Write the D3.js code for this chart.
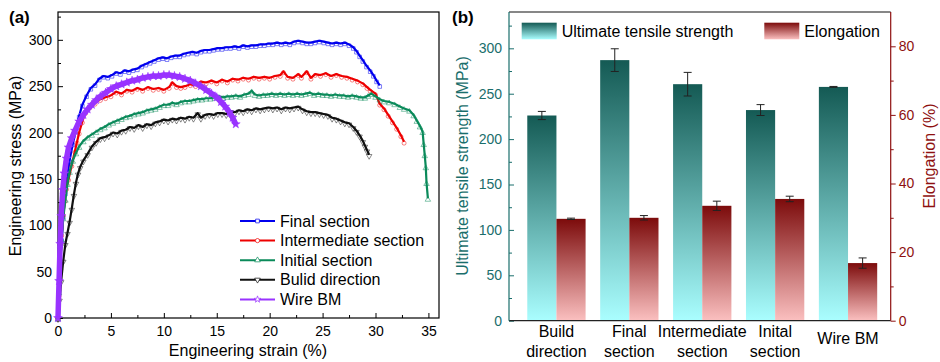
<!DOCTYPE html>
<html>
<head>
<meta charset="utf-8">
<script src="https://cdn.jsdelivr.net/npm/d3@7"></script>
<style>
body { margin: 0; background: #fff; }
text { font-family: "Liberation Sans", Arial, sans-serif; }
</style>
</head>
<body>
<svg id="chart" width="940" height="362"></svg>
<script>
// ---- panel (a) stress-strain curves, [strain %, stress MPa]
var finalSection = [[0,0],[0.1,30],[0.2,58],[0.35,85],[0.5,110],[0.7,135],[0.9,155],[1.1,170],[1.4,188],[1.7,202],[2.0,218],[2.3,230],[2.7,240],[3.1,248],[3.5,252],[3.9,258],[4.3,261],[4.7,260],[5.1,262],[5.5,265],[5.9,264],[6.3,267],[6.7,266],[7.1,268],[7.5,269],[7.9,272],[8.3,274],[8.7,276],[9.1,278],[9.5,280],[9.9,281],[10.3,280],[10.7,282],[11.1,283],[11.5,283],[11.9,285],[12.3,286],[12.7,287],[13.1,286],[13.5,288],[13.9,289],[14.3,289],[14.7,290],[15.1,291],[15.5,291],[15.9,292],[16.3,292],[16.7,293],[17.1,292],[17.5,294],[17.9,293],[18.3,294],[18.7,294],[19.1,295],[19.5,295],[19.9,296],[20.3,296],[20.7,297],[21.1,296],[21.5,297],[21.9,296],[22.3,298],[22.7,299],[23.1,298],[23.5,297],[23.9,297],[24.3,298],[24.7,299],[25.1,298],[25.5,297],[25.9,296],[26.3,297],[26.7,296],[27.1,297],[27.5,295],[27.9,292],[28.2,288],[28.5,283],[28.8,278],[29.15,272],[29.5,267],[29.8,262],[30.1,256],[30.4,251]];
var intermediateSection = [[0,0],[0.1,25],[0.2,55],[0.35,90],[0.5,112],[0.66,127],[0.8,140],[1.0,150],[1.3,165],[1.6,180],[1.8,190],[2.0,200],[2.3,212],[2.6,222],[3.0,228],[3.5,232],[4.0,236],[4.5,238],[5,240],[5.5,244],[6,242],[6.5,246],[7,245],[7.5,248],[8,246],[8.5,249],[9,247],[9.5,248],[10,246],[10.5,249],[10.8,254],[11.2,250],[11.6,249],[12,250],[12.5,252],[13,251],[13.5,255],[14,254],[14.5,256],[15,254],[15.5,257],[16,255],[16.5,258],[17,257],[17.5,259],[18,258],[18.5,260],[19,259],[19.5,260],[20,259],[20.5,261],[21,262],[21.3,266],[21.7,260],[22.2,259],[22.7,263],[23,260],[23.5,266],[23.9,259],[24.3,263],[24.8,262],[25.3,264],[25.8,261],[26.3,263],[26.8,261],[27.3,260],[27.8,258],[28.3,256],[28.8,253],[29.2,249],[29.5,246],[30.0,242],[30.4,231],[30.8,226],[31.2,219],[31.6,212],[32.0,205],[32.4,197],[32.7,190]];
var initialSection = [[0,0],[0.1,28],[0.2,55],[0.35,85],[0.5,108],[0.7,128],[0.9,145],[1.1,158],[1.4,170],[1.7,178],[2.0,185],[2.4,191],[2.8,195],[3.2,198],[3.6,201],[4.0,204],[4.4,206],[4.8,209],[5.2,211],[5.6,213],[6.0,215],[6.4,217],[6.8,218],[7.2,220],[7.6,221],[8.0,222],[8.4,224],[8.8,225],[9.2,226],[9.6,228],[10.0,230],[10.4,230],[10.8,232],[11.2,231],[11.6,233],[12.0,234],[12.4,234],[12.8,235],[13.2,236],[13.6,236],[14.0,237],[14.4,237],[14.8,238],[15.2,239],[15.6,238],[16.0,239],[16.4,239],[16.8,240],[17.2,239],[17.6,241],[18.0,242],[18.3,245],[18.6,241],[19.0,240],[19.4,241],[19.8,241],[20.2,242],[20.6,241],[21.0,242],[21.4,241],[21.8,242],[22.2,241],[22.6,242],[23.0,241],[23.4,242],[23.8,243],[24.2,241],[24.6,242],[25.0,241],[25.4,241],[25.8,240],[26.2,241],[26.6,240],[27.0,240],[27.4,239],[27.8,240],[28.2,239],[28.6,238],[29.0,238],[29.3,240],[29.6,242],[30.0,239],[30.4,236],[30.8,234],[31.3,233],[31.8,231],[32.3,228],[32.7,226],[33.2,224],[33.6,219],[33.9,213],[34.2,207],[34.45,201],[34.55,188],[34.65,176],[34.75,163],[34.82,146],[34.95,129]];
var buildDirection = [[0,0],[0.15,20],[0.3,40],[0.5,62],[0.7,80],[0.9,92],[1.1,104],[1.3,118],[1.5,133],[1.7,146],[1.9,156],[2.1,163],[2.4,170],[2.8,177],[3.2,185],[3.6,190],[4.0,194],[4.4,195],[4.8,197],[5.2,200],[5.6,199],[6.0,202],[6.4,203],[6.8,206],[7.2,205],[7.6,208],[8.0,206],[8.4,209],[8.8,208],[9.2,211],[9.6,212],[10.0,214],[10.4,213],[10.8,215],[11.2,214],[11.6,216],[12.0,215],[12.4,217],[12.8,216],[13.2,221],[13.5,216],[13.9,219],[14.3,220],[14.7,219],[15.1,221],[15.5,221],[15.9,220],[16.3,223],[16.7,222],[17.1,224],[17.5,223],[17.9,225],[18.3,224],[18.7,226],[19.1,225],[19.5,226],[19.9,227],[20.3,226],[20.7,227],[21.1,225],[21.5,227],[21.9,226],[22.3,227],[22.7,228],[23.1,225],[23.5,223],[23.9,222],[24.3,222],[24.7,221],[25.1,220],[25.5,219],[25.9,216],[26.3,215],[26.7,213],[27.1,211],[27.5,210],[27.9,206],[28.2,202],[28.5,197],[28.8,191],[29.0,186],[29.2,181],[29.4,176]];
var wireBM = [[0,0],[0.1,40],[0.2,80],[0.3,110],[0.45,138],[0.6,156],[0.8,172],[1.0,184],[1.3,194],[1.6,202],[2.0,212],[2.4,219],[2.8,225],[3.2,230],[3.6,235],[4.0,239],[4.5,243],[5.0,247],[5.5,250],[6.0,252],[6.5,254],[7.0,256],[7.5,257],[8.0,259],[8.5,260],[9.0,261],[9.5,261],[10.0,262],[10.5,262],[11.0,261],[11.5,260],[12.0,258],[12.5,256],[13.0,253],[13.5,250],[14.0,246],[14.5,242],[15.0,238],[15.4,233],[15.8,228],[16.2,222],[16.5,216],[16.8,209]];

var curveNames = ["Final section", "Intermediate section", "Initial section", "Bulid direction", "Wire BM"];
var curveColors = ["#0000ee", "#ee0000", "#0a8a5a", "#111111", "#9933ff"];

// ---- panel (b) bars
var categories = ["Build direction", "Final section", "Intermediate section", "Inital section", "Wire BM"];
var categoryLines = [["Build", "direction"], ["Final", "section"], ["Intermediate", "section"], ["Inital", "section"], ["Wire BM"]];
var utsMean = [226, 287, 260.5, 232, 257.5];
var utsErr = [4.5, 12.5, 13, 6, 0.5];
var elongMean = [29.7, 30.0, 33.5, 35.5, 16.8];
var elongErr = [0.2, 0.65, 1.35, 0.8, 1.5];

var svg = d3.select("#chart");
var teal = "#1a6e6c", darkRed = "#8e1010";

// =================== panel (a)
var xa = d3.scaleLinear().domain([0, 36]).range([58, 439]);
var ya = d3.scaleLinear().domain([0, 330]).range([318, 12]);

var gA = svg.append("g");

// minor ticks
gA.append("g").attr("transform", "translate(0,318)")
    .call(d3.axisBottom(xa).tickValues(d3.range(2.5, 36, 5)).tickSize(-3).tickFormat(""))
    .call(function(g){ g.select(".domain").remove(); });
gA.append("g").attr("transform", "translate(58,0)")
    .call(d3.axisLeft(ya).tickValues(d3.range(25, 330, 50)).tickSize(-3).tickFormat(""))
    .call(function(g){ g.select(".domain").remove(); });

// major ticks
var xAxisA = gA.append("g").attr("transform", "translate(0,318)")
    .call(d3.axisBottom(xa).tickValues(d3.range(0, 36, 5)).tickSize(-5).tickPadding(8));
var yAxisA = gA.append("g").attr("transform", "translate(58,0)")
    .call(d3.axisLeft(ya).tickValues(d3.range(0, 301, 50)).tickSize(-5).tickPadding(6));
[xAxisA, yAxisA].forEach(function(ax){
    ax.select(".domain").remove();
    ax.selectAll("text").style("font-size", "14px").attr("fill", "#000");
    ax.selectAll("line").attr("stroke", "#000");
});

gA.append("rect").attr("x", 58).attr("y", 12).attr("width", 381).attr("height", 306)
    .attr("fill", "none").attr("stroke", "#000").attr("stroke-width", 1.2);

var symbols = [d3.symbolSquare, d3.symbolCircle, d3.symbolTriangle, d3.symbolTriangle, d3.symbolStar];
var curves = [finalSection, intermediateSection, initialSection, buildDirection, wireBM];
var line = d3.line().x(function(d){ return xa(d[0]); }).y(function(d){ return ya(d[1]); });

curves.forEach(function(data, i) {
    var wide = i == 4;
    gA.append("path").datum(data)
        .attr("d", line)
        .attr("fill", "none")
        .attr("stroke", curveColors[i])
        .attr("stroke-width", wide ? 5.5 : 2.2)
        .attr("stroke-linejoin", "round");
    gA.append("g").selectAll("path").data(data).enter().append("path")
        .attr("d", d3.symbol().type(symbols[i]).size(wide ? 24 : 13))
        .attr("transform", function(d){
            return "translate(" + xa(d[0]) + "," + (ya(d[1]) + (wide ? 0 : 1.3)) + ")" + (i == 3 ? " rotate(180)" : "");
        })
        .attr("fill", wide ? curveColors[i] : "none")
        .attr("stroke", curveColors[i])
        .attr("stroke-opacity", 0.55)
        .attr("stroke-width", 0.9);
});

// legend (a)
curveNames.forEach(function(name, i) {
    var ly = 221 + i * 19.6;
    gA.append("line").attr("x1", 240).attr("x2", 275).attr("y1", ly).attr("y2", ly)
        .attr("stroke", curveColors[i]).attr("stroke-width", 2);
    gA.append("path")
        .attr("d", d3.symbol().type(symbols[i]).size(14))
        .attr("transform", "translate(257.5," + ly + ")" + (i == 3 ? " rotate(180)" : ""))
        .attr("fill", "#fff").attr("stroke", curveColors[i]).attr("stroke-opacity", 0.7);
    gA.append("text").attr("x", 280).attr("y", ly + 5.5)
        .text(name).style("font-size", "16px");
});

gA.append("text").attr("x", 248).attr("y", 356).attr("text-anchor", "middle")
    .text("Engineering strain (%)").style("font-size", "16px");
gA.append("text").attr("transform", "translate(21,166) rotate(-90)").attr("text-anchor", "middle")
    .text("Engineering stress (MPa)").style("font-size", "16px");
gA.append("text").attr("x", 9).attr("y", 23).text("(a)")
    .style("font-size", "17px").style("font-weight", "bold");

// =================== panel (b)
var xb = d3.scaleBand().domain(categories).range([509, 890.7])
    .paddingInner(0.2).paddingOuter(0.218).align(0.575);
var yl = d3.scaleLinear().domain([0, 340]).range([320.7, 12]);
var yr = d3.scaleLinear().domain([0, 90]).range([320.7, 12]);
var bw = xb.bandwidth() / 2;

var gB = svg.append("g");
var defs = svg.append("defs");
function gradient(id, top, bottom) {
    var g = defs.append("linearGradient").attr("id", id)
        .attr("x1", 0).attr("y1", 0).attr("x2", 0).attr("y2", 1);
    g.append("stop").attr("offset", "0%").attr("stop-color", top);
    g.append("stop").attr("offset", "100%").attr("stop-color", bottom);
}
gradient("gradUts", "#145a54", "#aafeff");
gradient("gradElong", "#7c0b0b", "#fbc0c0");

gB.selectAll(".uts").data(categories).enter().append("rect")
    .attr("x", function(d){ return xb(d); })
    .attr("y", function(d, i){ return yl(utsMean[i]); })
    .attr("width", bw)
    .attr("height", function(d, i){ return yl(0) - yl(utsMean[i]); })
    .attr("fill", "url(#gradUts)");
gB.selectAll(".elong").data(categories).enter().append("rect")
    .attr("x", function(d){ return xb(d) + bw; })
    .attr("y", function(d, i){ return yr(elongMean[i]); })
    .attr("width", bw)
    .attr("height", function(d, i){ return yr(0) - yr(elongMean[i]); })
    .attr("fill", "url(#gradElong)");

// error bars
function errorBar(cx, yTop, yBot) {
    gB.append("line").attr("x1", cx).attr("x2", cx).attr("y1", yTop).attr("y2", yBot)
        .attr("stroke", "#222").attr("stroke-width", 1);
    [yTop, yBot].forEach(function(yy){
        gB.append("line").attr("x1", cx - 4).attr("x2", cx + 4).attr("y1", yy).attr("y2", yy)
            .attr("stroke", "#222").attr("stroke-width", 1);
    });
}
categories.forEach(function(c, i) {
    errorBar(xb(c) + bw / 2, yl(utsMean[i] + utsErr[i]), yl(utsMean[i] - utsErr[i]));
    errorBar(xb(c) + bw * 1.5, yr(elongMean[i] + elongErr[i]), yr(elongMean[i] - elongErr[i]));
});

// axes (b)
gB.append("g").attr("transform", "translate(509,0)")
    .call(d3.axisLeft(yl).tickValues(d3.range(25, 340, 50)).tickSize(-3).tickFormat(""))
    .call(function(g){ g.select(".domain").remove(); g.selectAll("line").attr("stroke", teal); });
var ylAxis = gB.append("g").attr("transform", "translate(509,0)")
    .call(d3.axisLeft(yl).tickValues(d3.range(0, 301, 50)).tickSize(-5).tickPadding(7));
ylAxis.select(".domain").remove();
ylAxis.selectAll("line").attr("stroke", teal);
ylAxis.selectAll("text").attr("fill", teal).style("font-size", "14px");

gB.append("g").attr("transform", "translate(890.7,0)")
    .call(d3.axisRight(yr).tickValues(d3.range(10, 90, 20)).tickSize(3).tickFormat(""))
    .call(function(g){ g.select(".domain").remove(); g.selectAll("line").attr("stroke", darkRed); });
var yrAxis = gB.append("g").attr("transform", "translate(890.7,0)")
    .call(d3.axisRight(yr).tickValues(d3.range(0, 81, 20)).tickSize(5).tickPadding(3));
yrAxis.select(".domain").remove();
yrAxis.selectAll("line").attr("stroke", darkRed);
yrAxis.selectAll("text").attr("fill", darkRed).style("font-size", "14px");

gB.append("line").attr("x1", 509).attr("x2", 890.7).attr("y1", 12).attr("y2", 12)
    .attr("stroke", "#111").attr("stroke-width", 1.2);
gB.append("line").attr("x1", 509).attr("x2", 890.7).attr("y1", 320.7).attr("y2", 320.7)
    .attr("stroke", "#222").attr("stroke-width", 1.2);
gB.append("line").attr("x1", 509).attr("x2", 509).attr("y1", 12).attr("y2", 320.7)
    .attr("stroke", teal).attr("stroke-width", 1.2);
gB.append("line").attr("x1", 890.7).attr("x2", 890.7).attr("y1", 12).attr("y2", 320.7)
    .attr("stroke", darkRed).attr("stroke-width", 1.2);

// category labels
categories.forEach(function(c, i) {
    var lines = categoryLines[i];
    var t = gB.append("text").attr("text-anchor", "middle").style("font-size", "16px");
    lines.forEach(function(l, k) {
        t.append("tspan").attr("x", xb(c) + bw)
            .attr("y", lines.length == 1 ? 344 : 337 + k * 19.5).text(l);
    });
});

// legend (b)
gB.append("rect").attr("x", 521.7).attr("y", 22.7).attr("width", 35).attr("height", 16.6).attr("fill", "url(#gradUts)");
gB.append("text").attr("x", 561.7).attr("y", 37).text("Ultimate tensile strength").style("font-size", "16px");
gB.append("rect").attr("x", 764.3).attr("y", 22.7).attr("width", 35).attr("height", 16.6).attr("fill", "url(#gradElong)");
gB.append("text").attr("x", 804.3).attr("y", 37).text("Elongation").style("font-size", "16px");

gB.append("text").attr("transform", "translate(468,166) rotate(-90)").attr("text-anchor", "middle")
    .attr("fill", teal).text("Ultimate tensile strength (MPa)").style("font-size", "16px");
gB.append("text").attr("transform", "translate(935,156) rotate(-90)").attr("text-anchor", "middle")
    .attr("fill", darkRed).text("Elongation (%)").style("font-size", "16px");
gB.append("text").attr("x", 452).attr("y", 23).text("(b)")
    .style("font-size", "17px").style("font-weight", "bold");
</script>
</body>
</html>
